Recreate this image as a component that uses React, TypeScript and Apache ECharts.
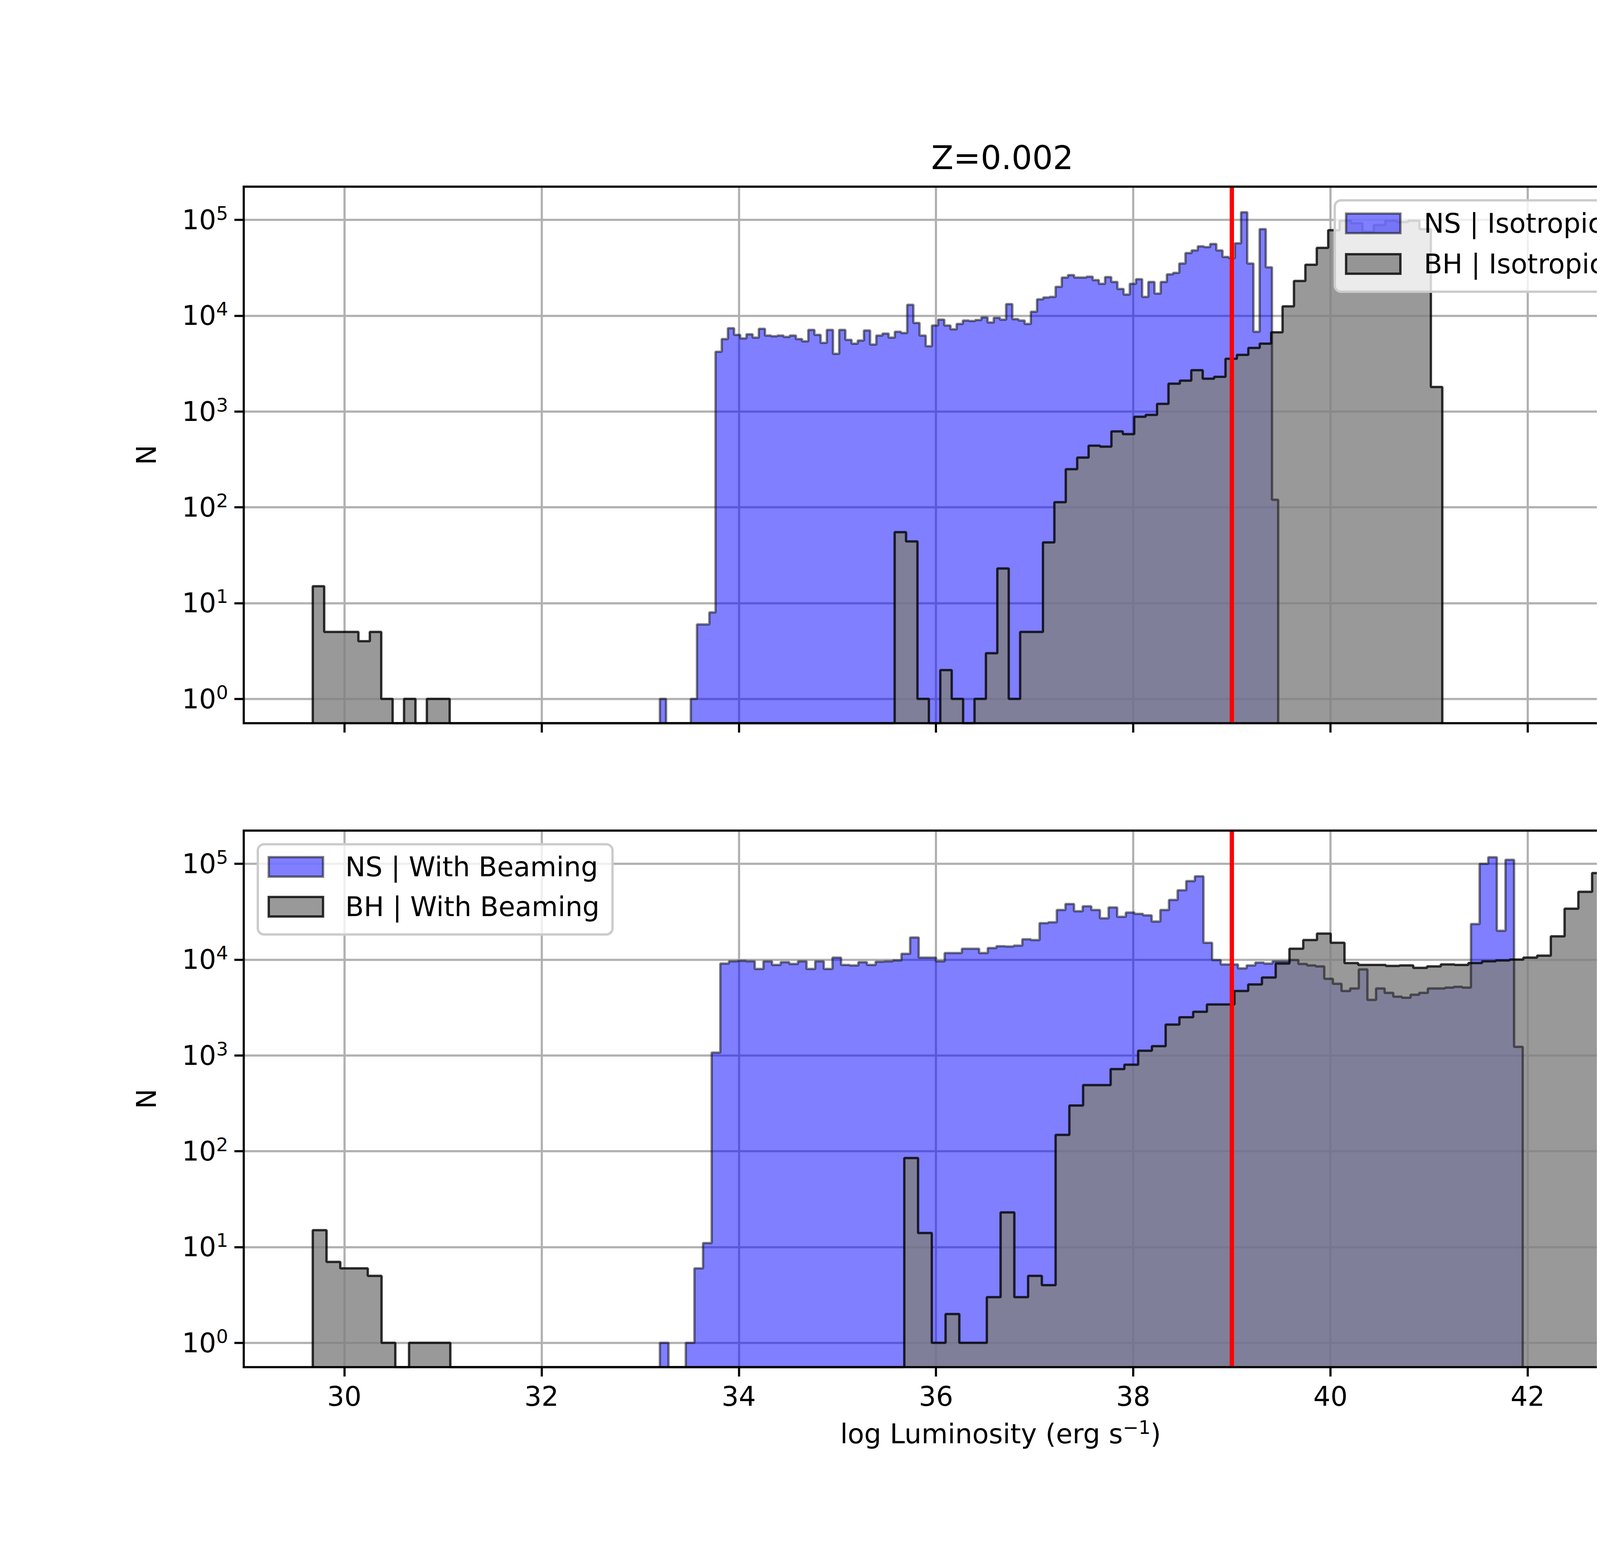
import * as echarts from 'echarts';
import React, { useEffect, useRef } from 'react';

// bin layout of each histogram (log L start, bin width)
const NS_START = 33.2;
const NS_TOP_WIDTH = 0.0627;
const NS_BOTTOM_WIDTH = 0.0875;
const BH_START = 29.68;
const BH_TOP_WIDTH = 0.1157;
const BH_BOTTOM_WIDTH = 0.1395;
const LEDD_LINE = 39;

const xTicks = [30, 32, 34, 36, 38, 40, 42, 44];
const yTicks = [1, 10, 100, 1000, 10000, 100000];

// counts per bin, isotropic emission (top panel)
const nsTopCounts = [
  1, 0, 0, 0, 0, 1, 6, 6, 8, 4200, 5700, 7400, 6300, 5800, 6400, 5900, 7300, 6200, 6100, 6200,
  6000, 6200, 5700, 5400, 7100, 6300, 5200, 7100, 4000, 7100, 5600, 5100, 5500, 7000, 5000, 6200, 6500, 5900, 6800, 6600,
  13000, 8400, 6200, 4800, 7900, 9100, 7900, 7200, 8200, 8900, 8800, 9000, 9600, 8500, 9500, 9100, 13200, 9200, 8900, 8200,
  11000, 14800, 15500, 15700, 20000, 25000, 26500, 25000, 25000, 25500, 23500, 21500, 25300, 22500, 19000, 16600, 21500, 24000, 15700, 22500,
  17000, 22500, 27000, 28000, 35000, 45000, 48000, 53000, 52000, 56000, 48000, 41000, 40000, 57000, 120000, 35000, 6800, 80000, 32000, 120,
];
const bhTopCounts = [
  15, 5, 5, 5, 4, 5, 1, 0, 1, 0, 1, 1, 0, 0, 0, 0, 0, 0, 0, 0,
  0, 0, 0, 0, 0, 0, 0, 0, 0, 0, 0, 0, 0, 0, 0, 0, 0, 0, 0, 0,
  0, 0, 0, 0, 0, 0, 0, 0, 0, 0, 0, 55, 44, 1, 0, 2, 1, 0, 1, 3,
  23, 1, 5, 5, 43, 113, 250, 330, 440, 430, 620, 580, 880, 920, 1200, 1950, 2100, 2700, 2200, 2300,
  3550, 3900, 4600, 5100, 6700, 12500, 23000, 34000, 51000, 78000, 98000, 92000, 75000, 88000, 98000, 95000, 98000, 80000, 1800,
];

// counts per bin, with beaming (bottom panel)
const nsBottomCounts = [
  1, 0, 0, 1, 6, 11, 1070, 9100, 9600, 9700, 9600, 8000, 9600, 8800, 9400, 9000, 9600, 8000, 9600, 8000,
  10500, 8800, 8700, 9400, 8800, 9500, 9600, 9800, 11500, 17000, 10500, 10500, 9600, 11700, 11700, 13000, 13000, 11700, 13200, 13800,
  13700, 14000, 16300, 16000, 24000, 24500, 33000, 38000, 32000, 36000, 33000, 27000, 35000, 28000, 31000, 30000, 29000, 25000, 33000, 42000,
  53000, 66000, 74000, 15000, 9900, 8900, 8900, 8100, 8700, 9300, 9100, 9600, 9600, 9900, 9000, 8700, 8500, 6300, 5600, 4700,
  5000, 7900, 3800, 5000, 4500, 4100, 4000, 4300, 4500, 5000, 5000, 5100, 5200, 5100, 23500, 100000, 117000, 20000, 110000, 1230,
];
const bhBottomCounts = [
  15, 7, 6, 6, 5, 1, 0, 1, 1, 1, 0, 0, 0, 0, 0, 0, 0, 0, 0, 0,
  0, 0, 0, 0, 0, 0, 0, 0, 0, 0, 0, 0, 0, 0, 0, 0, 0, 0, 0, 0,
  0, 0, 0, 85, 14, 1, 2, 1, 1, 3, 23, 3, 5, 4, 148, 300, 490, 490, 720, 800,
  1120, 1250, 2100, 2500, 2850, 3400, 3400, 4700, 5500, 6500, 9100, 13000, 16000, 18700, 15000, 9200, 8800, 8800, 8600, 8700,
  8200, 8500, 8900, 8800, 9200, 9600, 9800, 10000, 10500, 11000, 17500, 34000, 51000, 80000, 78000, 105000, 117000, 118000, 108000, 8900,
];

const X_MIN = 28.98;
const X_MAX = 44.33;
const Y_MIN = 0.558;
const Y_MAX = 222000;

const FONT = 'DejaVu Sans';
const NS_FILL = 'rgba(0,0,255,0.5)';
const NS_EDGE = 'rgba(0,0,0,0.5)';
const BH_FILL = 'rgba(128,128,128,0.8)';
const BH_EDGE = 'rgba(0,0,0,0.8)';

const minorTicks: number[] = [];
[-1, 0, 1, 2, 3, 4, 5].forEach((e) => {
  for (let m = 2; m <= 9; m++) {
    const v = m * Math.pow(10, e);
    if (v > Y_MIN && v < Y_MAX) minorTicks.push(v);
  }
});

// histogram outline as step points
const steps = (start: number, width: number, counts: number[]) => {
  const pts: number[][] = [[start, Y_MIN]];
  counts.forEach((c, i) => pts.push([start + i * width, c > 0 ? c : Y_MIN]));
  const end = start + counts.length * width;
  const last = counts[counts.length - 1];
  pts.push([end, last > 0 ? last : Y_MIN]);
  pts.push([end, Y_MIN]);
  return pts;
};

const App: React.FC = () => {
  const chartRef = useRef<HTMLDivElement>(null);

  useEffect(() => {
    if (!chartRef.current) return;
    const chart = echarts.init(chartRef.current, undefined, { renderer: 'svg' });

    const gridTops = [478, 2127];
    const plotH = 1374;

    const xAxisFor = (gi: number) => ({
      type: 'value' as const,
      gridIndex: gi,
      min: X_MIN,
      max: X_MAX,
      axisLine: { show: false },
      axisTick: { show: true, length: 24, lineStyle: { color: '#000', width: 5.5 }, customValues: xTicks },
      axisLabel: {
        show: gi === 1,
        customValues: xTicks,
        fontFamily: FONT,
        fontSize: 69,
        color: '#000',
        margin: 40,
      },
      splitLine: { show: true, lineStyle: { color: '#b0b0b0', width: 5.5 } },
      name: gi === 1 ? '{n|log Luminosity (erg s}{s|\u22121}{n|)}' : '',
      nameLocation: 'middle' as const,
      nameGap: 130,
      nameTextStyle: {
        rich: {
          n: { fontFamily: FONT, fontSize: 69, color: '#000' },
          s: { fontFamily: FONT, fontSize: 48, color: '#000', padding: [0, 0, 34, 0] },
        },
      },
    });

    const yAxisFor = (gi: number) => ({
      type: 'log' as const,
      logBase: 10,
      gridIndex: gi,
      min: Y_MIN,
      max: Y_MAX,
      axisLine: { show: false },
      axisTick: { show: true, length: 24, lineStyle: { color: '#000', width: 5.5 }, customValues: yTicks },
      axisLabel: {
        customValues: yTicks,
        margin: 40,
        formatter: (v: number) => `{b|10}{s|${Math.round(Math.log10(v))}}`,
        rich: {
          b: { fontFamily: FONT, fontSize: 69, color: '#000' },
          s: { fontFamily: FONT, fontSize: 48, color: '#000', padding: [0, 0, 34, 0] },
        },
      },
      splitLine: { show: true, lineStyle: { color: '#b0b0b0', width: 5.5 } },
      name: 'N',
      nameLocation: 'middle' as const,
      nameGap: 215,
      nameTextStyle: { fontFamily: FONT, fontSize: 69, color: '#000' },
    });

    const minorAxisFor = (gi: number) => ({
      type: 'log' as const,
      logBase: 10,
      gridIndex: gi,
      min: Y_MIN,
      max: Y_MAX,
      axisLine: { show: false },
      axisTick: { show: true, length: 14, lineStyle: { color: '#000', width: 4 }, customValues: minorTicks },
      axisLabel: { show: false },
      splitLine: { show: false },
    });

    const histSeries = (gi: number, name: string, pts: number[][], fill: string, edge: string, extra = {}) => ({
      name,
      type: 'line' as const,
      xAxisIndex: gi,
      yAxisIndex: gi,
      step: 'end' as const,
      data: pts,
      symbol: 'none',
      lineStyle: { color: edge, width: 6 },
      areaStyle: { color: fill, origin: 'start' as const, opacity: 1 },
      ...extra,
    });

    const redLine = {
      markLine: {
        silent: true,
        symbol: 'none',
        label: { show: false },
        lineStyle: { color: '#ff0000', width: 11, type: 'solid' as const },
        data: [{ xAxis: LEDD_LINE }],
      },
    };

    const legendBox = (x: number, y: number, w: number, h: number, rows: { label: string; fill: string; edge: string; cy: number }[], textX: number, handleX: number) => {
      const els: any[] = [
        {
          type: 'rect',
          shape: { x, y, width: w, height: h, r: 16 },
          style: { fill: 'rgba(255,255,255,0.8)', stroke: '#cccccc', lineWidth: 6 },
          z: 100,
        },
      ];
      rows.forEach((r) => {
        els.push({
          type: 'rect',
          shape: { x: handleX, y: r.cy - 25, width: 139, height: 50 },
          style: { fill: r.fill, stroke: r.edge, lineWidth: 6 },
          z: 101,
        });
        els.push({
          type: 'text',
          x: textX,
          y: r.cy,
          style: { text: r.label, font: `69px "${FONT}"`, fill: '#000', textVerticalAlign: 'middle', textAlign: 'left' },
          z: 101,
        });
      });
      return els;
    };

    const option: echarts.EChartsOption = {
      animation: false,
      backgroundColor: '#fff',
      title: {
        text: 'Z=0.002',
        left: 2561,
        top: 358,
        textAlign: 'center',
        textStyle: { fontFamily: FONT, fontSize: 83, fontWeight: 'normal', color: '#000' },
      },
      grid: gridTops.map((t) => ({
        left: 624,
        top: t,
        width: 3875,
        height: plotH,
        show: true,
        borderColor: '#000',
        borderWidth: 5.5,
        backgroundColor: 'transparent',
        z: 10,
      })),
      xAxis: [xAxisFor(0), xAxisFor(1)],
      yAxis: [yAxisFor(0), yAxisFor(1), minorAxisFor(0), minorAxisFor(1)],
      series: [
        histSeries(0, 'NS | Isotropic Emission', steps(NS_START, NS_TOP_WIDTH, nsTopCounts), NS_FILL, NS_EDGE),
        histSeries(0, 'BH | Isotropic Emission', steps(BH_START, BH_TOP_WIDTH, bhTopCounts), BH_FILL, BH_EDGE, redLine),
        histSeries(1, 'NS | With Beaming', steps(NS_START, NS_BOTTOM_WIDTH, nsBottomCounts), NS_FILL, NS_EDGE),
        histSeries(1, 'BH | With Beaming', steps(BH_START, BH_BOTTOM_WIDTH, bhBottomCounts), BH_FILL, BH_EDGE, redLine),
      ],
      graphic: [
        ...legendBox(3417, 513, 1049, 234, [
          { label: 'NS | Isotropic Emission', fill: NS_FILL, edge: NS_EDGE, cy: 572 },
          { label: 'BH | Isotropic Emission', fill: BH_FILL, edge: BH_EDGE, cy: 676 },
        ], 3645, 3446),
        ...legendBox(660, 2162, 908, 231, [
          { label: 'NS | With Beaming', fill: NS_FILL, edge: NS_EDGE, cy: 2220 },
          { label: 'BH | With Beaming', fill: BH_FILL, edge: BH_EDGE, cy: 2322 },
        ], 884, 688),
      ],
    };

    chart.setOption(option);
    return () => chart.dispose();
  }, []);

  return <div ref={chartRef} style={{ width: 5000, height: 4000, margin: -8, background: '#fff' }} />;
};

export default App;
